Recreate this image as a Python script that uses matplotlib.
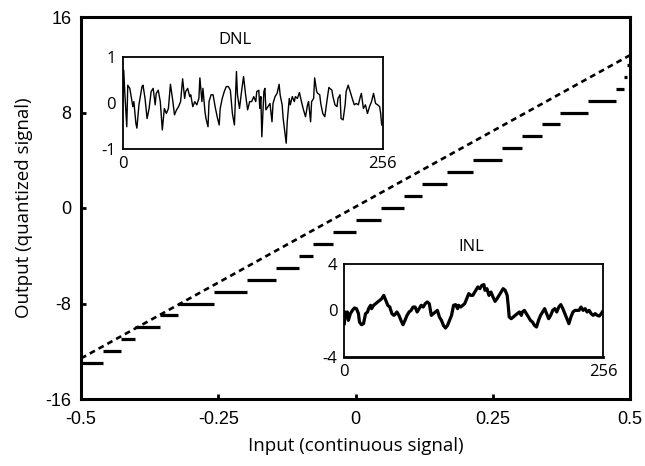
import matplotlib
matplotlib.use("Agg")
import matplotlib.pyplot as plt
import numpy as np

plt.rcParams['axes.unicode_minus'] = False

# ---- data ----
# staircase: output level and input interval [start, end]
step_levels = list(range(-13, 13))
step_edges = [-0.5, -0.460, -0.428, -0.401, -0.357, -0.323, -0.258, -0.198, -0.145,
              -0.1035, -0.077, -0.0415, 0.0, 0.046, 0.088, 0.122, 0.167, 0.2135,
              0.267, 0.304, 0.340, 0.372, 0.4235, 0.4745, 0.489, 0.495, 0.5]
ideal_x = [-0.5, 0.5]
ideal_y = [-12.6, 12.8]

x_ticks = [-0.5, -0.25, 0, 0.25, 0.5]
x_ticklabels = ["-0.5", "-0.25", "0", "0.25", "0.5"]
y_ticks = [-16, -8, 0, 8, 16]
y_ticklabels = ["-16", "-8", "0", "8", "16"]

dnl_idx = [0, 1, 2, 4, 5, 7, 10, 11, 13, 14, 16, 19, 20, 22, 24, 26, 28, 30, 32, 33,
           35, 37, 39, 41, 43, 45, 47, 49, 51, 53, 55, 57, 59, 61, 62, 64, 66, 67, 69,
           71, 73, 75, 76, 78, 79, 81, 82, 84, 85, 87, 89, 91, 93, 95, 96, 98, 100,
           102, 104, 106, 108, 110, 112, 113, 115, 117, 119, 121, 123, 125, 127, 129,
           131, 132, 134, 135, 136, 137, 139, 140, 141, 143, 145, 147, 148, 150, 152,
           154, 155, 157, 158, 160, 161, 162, 164, 165, 167, 169, 170, 172, 174, 176,
           178, 180, 182, 183, 185, 186, 188, 189, 191, 192, 194, 195, 197, 199, 201,
           203, 204, 206, 207, 209, 211, 212, 214, 215, 217, 219, 220, 222, 224, 226,
           228, 230, 232, 234, 235, 237, 239, 241, 243, 245, 247, 249, 251, 253, 254,
           255]
dnl_val = [0.03, 0.72, 0.25, -0.52, 0.39, 0.32, -0.08, 0.03, -0.45, -0.55, -0.04, 0.36,
           0.39, 0.10, -0.34, -0.12, 0.25, 0.32, -0.04, 0.21, 0.28, 0.03, -0.59, -0.12,
           -0.23, -0.12, 0.41, 0.10, -0.26, -0.15, -0.08, 0.03, 0.53, 0.10, 0.25, 0.32,
           0.14, 0.18, -0.08, 0.03, -0.04, 0.10, 0.55, 0.03, 0.32, -0.19, -0.34, -0.52,
           0.03, 0.18, 0.18, -0.08, -0.30, -0.48, -0.12, 0.10, 0.25, 0.36, 0.36, 0.28,
           -0.23, -0.48, 0.69, 0.18, -0.12, 0.25, 0.58, 0.18, -0.15, 0.03, 0.03, 0.14,
           0.03, 0.25, 0.28, -0.12, 0.14, -0.74, 0.25, 0.32, -0.15, -0.08, -0.01, -0.41,
           -0.01, 0.14, 0.21, 0.41, 0.18, -0.04, -0.34, -0.70, -0.88, -0.41, 0.10, -0.04,
           0.14, 0.03, 0.14, 0.10, 0.23, 0.03, -0.15, -0.30, -0.04, 0.03, -0.41, 0.03,
           0.10, 0.55, 0.25, 0.21, 0.18, -0.01, -0.23, -0.30, 0.03, 0.34, 0.32, 0.28,
           0.14, -0.04, -0.08, 0.10, 0.18, -0.34, -0.37, -0.04, 0.25, 0.39, 0.25, 0.10,
           -0.04, -0.01, -0.04, 0.14, 0.21, -0.12, -0.04, -0.23, -0.08, 0.03, 0.21,
           -0.01, -0.04, -0.08, -0.23, -0.48]

inl_idx = [0, 1, 2, 3, 4, 6, 8, 10, 12, 14, 15, 17, 19, 21, 23, 24, 26, 27, 29, 31, 33,
           35, 37, 39, 41, 43, 45, 47, 49, 50, 52, 54, 56, 58, 60, 62, 64, 66, 68, 70,
           72, 74, 76, 78, 80, 82, 84, 86, 88, 90, 92, 94, 96, 98, 100, 102, 104, 106,
           108, 110, 112, 113, 115, 117, 119, 121, 123, 125, 127, 128, 130, 132, 134,
           136, 138, 139, 141, 143, 145, 147, 149, 151, 153, 155, 157, 159, 161, 162,
           163, 165, 167, 169, 171, 173, 175, 176, 178, 180, 182, 184, 186, 188, 190,
           192, 194, 196, 198, 200, 202, 204, 206, 208, 210, 212, 214, 216, 218, 220,
           222, 224, 226, 228, 230, 232, 234, 236, 238, 240, 242, 244, 246, 248, 250,
           252, 254, 255]
inl_val = [-1.14, -0.13, -0.56, -0.13, -0.85, -0.27, 0.01, 0.22, 0.16, -0.27, -1.0,
           -1.23, -1.14, -0.27, -0.13, 0.16, 0.45, 0.16, 0.45, 0.59, 0.74, 0.88, 1.03,
           1.31, 0.88, 0.45, 0.30, -0.27, -0.42, -0.36, -0.13, -0.42, -0.85, -1.23,
           -0.85, -0.42, -0.13, 0.01, 0.30, 0.30, -0.13, 0.16, 0.45, 0.30, 0.59, 0.74,
           0.59, -0.42, -0.27, -0.13, 0.01, -0.56, -0.85, -1.29, -1.52, -1.29, -0.85,
           -0.42, 0.45, 0.51, 0.16, 0.45, 0.30, 0.45, 0.59, 1.03, 1.46, 1.31, 1.31,
           1.46, 1.75, 2.04, 1.89, 2.18, 2.24, 1.75, 1.89, 1.31, 1.60, 1.17, 0.79, 1.03,
           1.31, 1.60, 1.89, 1.75, 1.31, 0.45, -0.56, -0.71, -0.56, -0.42, -0.27, -0.13,
           -0.42, -0.13, 0.01, -0.27, -0.56, -0.85, -1.0, -1.29, -1.43, -0.85, -0.42,
           -0.13, 0.16, -0.27, -0.71, -0.42, 0.01, 0.16, -0.13, 0.30, 0.51, 0.16, -0.27,
           -0.71, -1.14, -0.56, -0.13, 0.01, 0.01, 0.01, 0.30, 0.01, 0.16, -0.13, 0.01,
           -0.27, -0.42, -0.27, -0.42, -0.48, -0.27, -0.13]

# ---- figure ----
W, H = 645, 466
fig = plt.figure(figsize=(W / 100, H / 100), dpi=100)

def rect(l, t, r, b):
    return [l / W, 1 - b / H, (r - l) / W, (b - t) / H]

ax = fig.add_axes(rect(81, 17, 630, 399))
ax.hlines(step_levels, step_edges[:-1], step_edges[1:], colors='black', lw=2.3)
ax.plot(ideal_x, ideal_y, color='black', lw=1.9, linestyle=(0, (2.2, 1.6)))
ax.set_xlim(-0.5, 0.5)
ax.set_ylim(-16, 16)
ax.set_xticks(x_ticks)
ax.set_xticklabels(x_ticklabels)
ax.set_yticks(y_ticks)
ax.set_yticklabels(y_ticklabels)
for s in ax.spines.values():
    s.set_linewidth(2.2)
ax.tick_params(direction='in', length=3.5, width=2, labelsize=13, pad=7)
ax.tick_params(axis='x', pad=9)
for lbl in ax.get_xticklabels() + ax.get_yticklabels():
    lbl.set_family('Liberation Sans')
ax.set_xlabel("Input (continuous signal)", family='Open Sans', fontsize=13.5, labelpad=6)
ax.set_ylabel("Output (quantized signal)", family='Open Sans', fontsize=13.5, labelpad=9)

def inset(r, idx, val, ylim, yt, lw):
    a = fig.add_axes(r)
    a.set_facecolor('white')
    a.plot(idx, val, color='black', lw=lw, solid_joinstyle='round')
    a.set_xlim(0, 256)
    a.set_ylim(*ylim)
    a.set_xticks([0, 256])
    a.set_xticklabels(["0", "256"])
    a.set_yticks(yt)
    a.set_yticklabels([str(v) for v in yt])
    a.tick_params(length=0, labelsize=12, pad=5)
    for lbl in a.get_xticklabels() + a.get_yticklabels():
        lbl.set_family('Open Sans')
    for s in a.spines.values():
        s.set_linewidth(1.3)
    return a

dnl_ax = inset(rect(122.7, 57.3, 382.7, 148.7), dnl_idx, dnl_val, (-1, 1), [-1, 0, 1], 1.0)
inl_ax = inset(rect(344.3, 264.3, 603.3, 356.7), inl_idx, inl_val, (-4, 4), [-4, 0, 4], 2.3)
inl_ax.spines['bottom'].set_linewidth(2.0)

fig.text(235 / W, 1 - 40 / H, "DNL", family='Open Sans', fontsize=12, ha='center', va='center')
fig.text(471 / W, 1 - 247 / H, "INL", family='Open Sans', fontsize=12, ha='center', va='center')

fig.savefig("out.png", dpi=100)
